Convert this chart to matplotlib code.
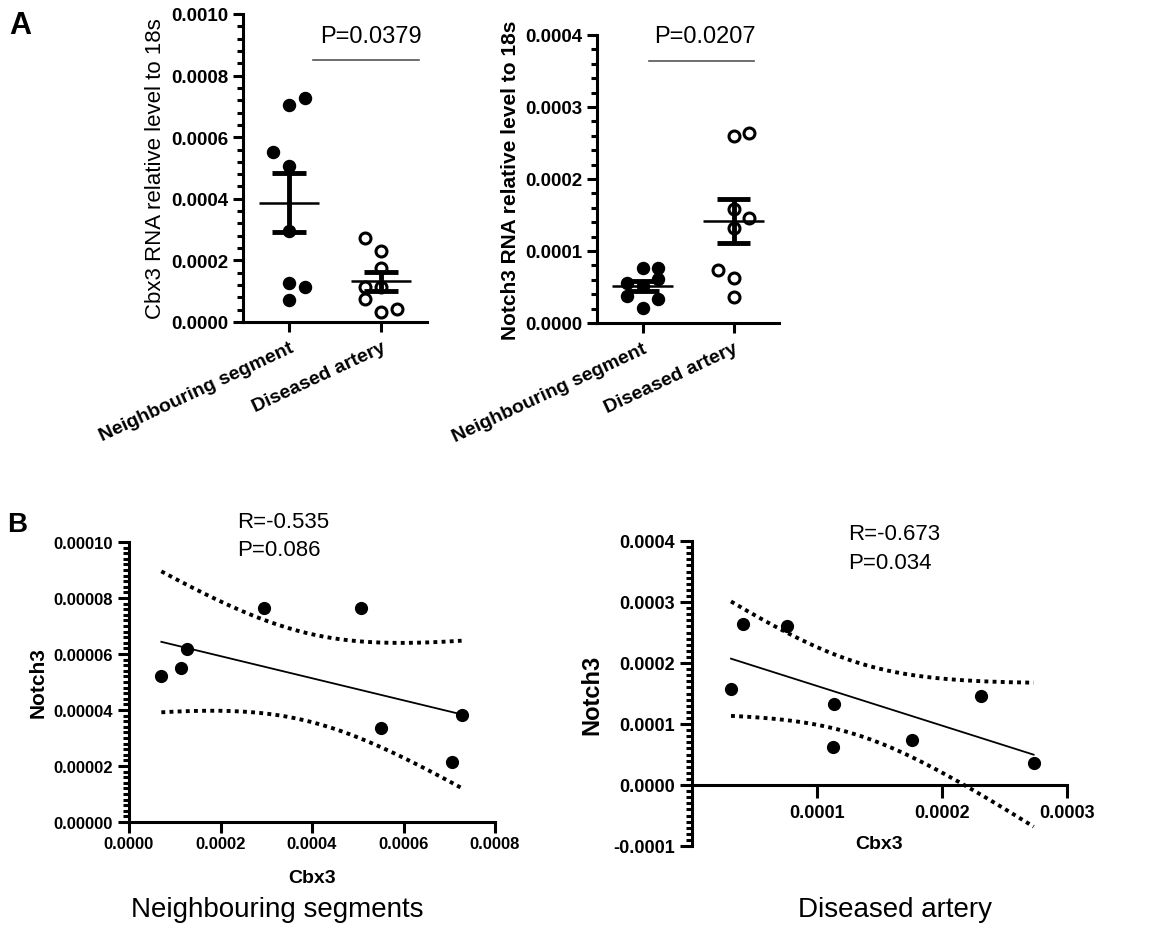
import numpy as np
import matplotlib
matplotlib.use("Agg")
import matplotlib.pyplot as plt
from matplotlib.ticker import MultipleLocator, FormatStrFormatter, FixedLocator

plt.rcParams["font.family"] = ["Liberation Sans", "DejaVu Sans"]

groups = ["Neighbouring segment", "Diseased artery"]

# paired samples, Cbx3 and Notch3 RNA relative to 18s
cbx3_neigh = [0.0000707, 0.0001145, 0.0001276, 0.000295, 0.000508, 0.000551, 0.000705, 0.000727]
notch3_neigh = [0.0000520, 0.0000550, 0.0000617, 0.0000764, 0.0000765, 0.0000337, 0.0000214, 0.0000381]
cbx3_dis = [0.0000312, 0.0000408, 0.000076, 0.0001133, 0.0001128, 0.000176, 0.0002315, 0.0002733]
notch3_dis = [0.0001578, 0.000264, 0.00026, 0.0001326, 0.000063, 0.000074, 0.0001452, 0.0000367]

# which column each dot sits in for the dot plots (-1 left, 0 middle, 1 right)
cbx3_neigh_col = [0, 1, 0, 0, 0, -1, 0, 1]
cbx3_dis_col = [0, 1, -1, 0, -1, 0, 0, -1]
notch3_neigh_col = [0, -1, 1, 0, 1, 1, 0, -1]
notch3_dis_col = [0, 1, 0, 0, 0, -1, 1, 0]

p_group = ["P=0.0379", "P=0.0207"]
stats_corr = ["R=-0.535\nP=0.086", "R=-0.673\nP=0.034"]
titles_b = ["Neighbouring segments", "Diseased artery"]

W, H = 1168, 929
fig = plt.figure(figsize=(W / 100, H / 100), dpi=100)


def box(l, t, r, b):
    return [l / W, 1 - b / H, (r - l) / W, (b - t) / H]


def style_axes(ax, length=7):
    for s in ["top", "right"]:
        ax.spines[s].set_visible(False)
    for s in ["left", "bottom"]:
        ax.spines[s].set_linewidth(2.2)
    ax.tick_params(which="major", direction="out", length=length, width=2.2)
    ax.tick_params(which="minor", direction="out", length=4, width=2.2)
    for lab in ax.get_xticklabels() + ax.get_yticklabels():
        lab.set_fontweight("bold")


def dot_panel(ax, data, cols, ymax, major, minor, ylabel, label_weight, label_size):
    jit = 0.17
    for i, (vals, cc) in enumerate(zip(data, cols)):
        xs = i + jit * np.array(cc)
        if i == 0:
            ax.scatter(xs, vals, s=75, color="black", zorder=3, clip_on=False)
        else:
            ax.scatter(xs, vals, s=62, facecolor="white", edgecolor="black",
                       linewidth=2.2, zorder=3, clip_on=False)
        v = np.array(vals)
        m = v.mean()
        se = v.std(ddof=1) / np.sqrt(len(v))
        ax.hlines(m, i - 0.33, i + 0.33, color="black", lw=1.8, zorder=4)
        ax.vlines(i, m - se, m + se, color="black", lw=3.5, zorder=4)
        ax.hlines([m - se, m + se], i - 0.18, i + 0.18, color="black", lw=3.5, zorder=4)
    ax.set_xlim(-0.5, 1.5)
    ax.set_ylim(0, ymax)
    ax.set_xticks([0, 1])
    ax.set_xticklabels(groups, rotation=25, ha="right", va="top",
                       rotation_mode="anchor", fontsize=14)
    ax.yaxis.set_major_locator(MultipleLocator(major))
    ax.yaxis.set_minor_locator(MultipleLocator(minor))
    ax.yaxis.set_major_formatter(FormatStrFormatter("%.4f"))
    ax.tick_params(axis="y", labelsize=13.5)
    ax.tick_params(axis="x", pad=5)
    ax.set_ylabel(ylabel, fontsize=label_size, fontweight=label_weight, labelpad=4)
    style_axes(ax)


def fit_panel(ax, x, y):
    x = np.array(x)
    y = np.array(y)
    n = len(x)
    slope, icpt = np.polyfit(x, y, 1)
    xs = np.linspace(x.min(), x.max(), 200)
    yfit = icpt + slope * xs
    s = np.sqrt(np.sum((y - (icpt + slope * x)) ** 2) / (n - 2))
    sxx = np.sum((x - x.mean()) ** 2)
    half = 2.447 * s * np.sqrt(1 / n + (xs - x.mean()) ** 2 / sxx)  # 95% band, df=6
    ax.plot(xs, yfit, color="black", lw=1.3, zorder=2)
    ax.plot(xs, yfit + half, color="black", lw=2.8, ls=(0, (1, 1.1)), zorder=2)
    ax.plot(xs, yfit - half, color="black", lw=2.8, ls=(0, (1, 1.1)), zorder=2)
    ax.scatter(x, y, s=72, color="black", zorder=3, clip_on=False)


# A: dot plots
ax1 = fig.add_axes(box(243, 15, 427, 323))
dot_panel(ax1, [cbx3_neigh, cbx3_dis], [cbx3_neigh_col, cbx3_dis_col],
          0.001, 0.0002, 0.00004, "Cbx3 RNA relative level to 18s", "normal", 16)
ax1.plot([0.26, 1.41], [0.00085, 0.00085], color="#555555", lw=1.2, clip_on=False)
ax1.text(0.89, 0.00093, p_group[0], ha="center", va="center", fontsize=17)

ax2 = fig.add_axes(box(597, 36, 779, 324))
dot_panel(ax2, [notch3_neigh, notch3_dis], [notch3_neigh_col, notch3_dis_col],
          0.0004, 0.0001, 0.00002, "Notch3 RNA relative level to 18s", "bold", 15)
ax2.plot([0.07, 1.22], [0.000364, 0.000364], color="#555555", lw=1.2, clip_on=False)
ax2.text(0.69, 0.000399, p_group[1], ha="center", va="center", fontsize=17, clip_on=False)

# B: correlations
ax3 = fig.add_axes(box(129, 543, 495, 823))
fit_panel(ax3, cbx3_neigh, notch3_neigh)
ax3.set_xlim(0, 0.0008)
ax3.set_ylim(0, 0.0001)
ax3.xaxis.set_major_locator(MultipleLocator(0.0002))
ax3.xaxis.set_major_formatter(FormatStrFormatter("%.4f"))
ax3.yaxis.set_major_locator(MultipleLocator(0.00002))
ax3.yaxis.set_minor_locator(MultipleLocator(0.000002))
ax3.yaxis.set_major_formatter(FormatStrFormatter("%.5f"))
ax3.tick_params(labelsize=12)
ax3.tick_params(axis="x", pad=2)
ax3.set_xlabel("Cbx3", fontsize=14, fontweight="bold", labelpad=13)
ax3.set_ylabel("Notch3", fontsize=15, fontweight="bold", labelpad=4)
style_axes(ax3, length=8)
ax3.text(0.000236, 0.000111, stats_corr[0], ha="left", va="top", fontsize=16,
         linespacing=1.45, clip_on=False)

ax4 = fig.add_axes(box(692, 542, 1067, 847))
fit_panel(ax4, cbx3_dis, notch3_dis)
ax4.set_xlim(0, 0.0003)
ax4.set_ylim(-0.0001, 0.0004)
ax4.spines["bottom"].set_position(("data", 0))
ax4.xaxis.set_major_locator(FixedLocator([0.0001, 0.0002, 0.0003]))
ax4.xaxis.set_major_formatter(FormatStrFormatter("%.4f"))
ax4.yaxis.set_major_locator(MultipleLocator(0.0001))
ax4.yaxis.set_minor_locator(MultipleLocator(0.00001))
ax4.yaxis.set_major_formatter(FormatStrFormatter("%.4f"))
ax4.tick_params(labelsize=13)
ax4.set_xlabel("Cbx3", fontsize=14, fontweight="bold", labelpad=10)
ax4.set_ylabel("Notch3", fontsize=17, fontweight="bold", labelpad=7)
style_axes(ax4, length=9)
ax4.tick_params(axis="x", pad=5)
ax4.text(0.0001248, 0.000429, stats_corr[1], ha="left", va="top", fontsize=16,
         linespacing=1.45, clip_on=False)

fig.text(277 / W, 1 - 910 / H, titles_b[0], ha="center", va="center", fontsize=20)
fig.text(895 / W, 1 - 910 / H, titles_b[1], ha="center", va="center", fontsize=20)

fig.text(20 / W, 1 - 26 / H, "A", ha="center", va="center", fontsize=22, fontweight="bold")
fig.text(17 / W, 1 - 525 / H, "B", ha="center", va="center", fontsize=20, fontweight="bold")

fig.savefig("out.png", dpi=100, facecolor="white")
